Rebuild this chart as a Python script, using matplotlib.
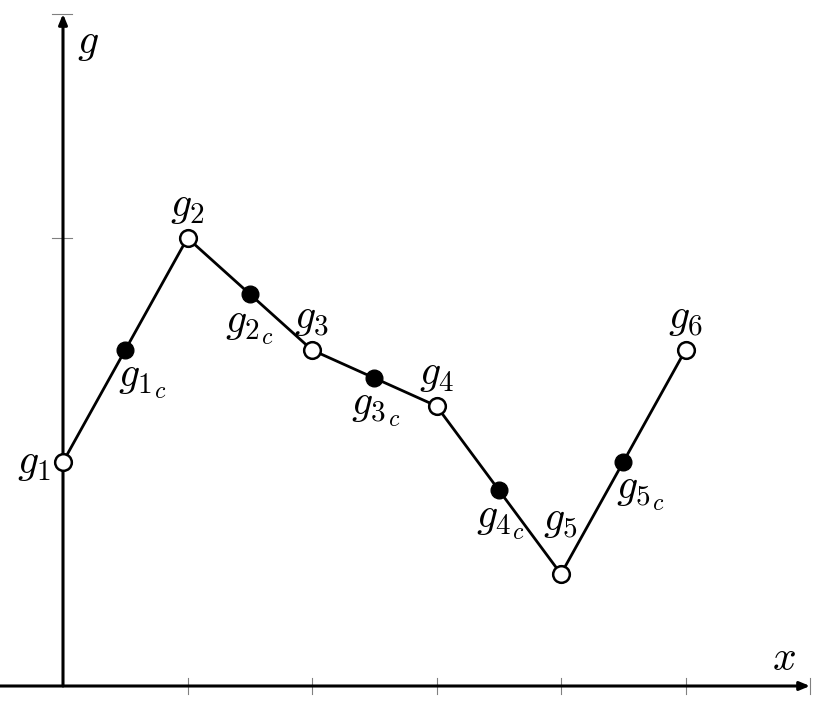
import matplotlib
matplotlib.use('Agg')
import matplotlib.pyplot as plt

plt.rcParams['mathtext.fontset'] = 'cm'

# main nodes g1..g6
node_x = [0, 1, 2, 3, 4, 5]
node_y = [2, 4, 3, 2.5, 1, 3]
node_labels = ['$g_1$', '$g_2$', '$g_3$', '$g_4$', '$g_5$', '$g_6$']

# centre points between nodes
mid_x = [0.5, 1.5, 2.5, 3.5, 4.5]
mid_y = [3.0, 3.5, 2.75, 1.75, 2.0]
mid_labels = ['$g_1$', '$g_2$', '$g_3$', '$g_4$', '$g_5$']  # + subscript c

x_ticks = [1, 2, 3, 4, 5, 6]
y_ticks = [4, 6]

fig = plt.figure(figsize=(8.24, 7.24), dpi=100)
ax = fig.add_axes([0, 0, 1, 1])
ax.set_xlim(-63 / 124.5, (824 - 63) / 124.5)
ax.set_ylim(-38 / 112.0, 686 / 112.0)
ax.axis('off')

# axes with arrows
arrow = dict(arrowstyle='-|>,head_length=0.6,head_width=0.25', color='black',
             lw=2.2, shrinkA=0, shrinkB=0)
ax.annotate('', xy=(6, 0), xytext=(-0.6, 0), arrowprops=arrow)
ax.annotate('', xy=(0, 6), xytext=(0, 0), arrowprops=arrow)
ax.text(5.79, 0.06, '$x$', fontsize=30, ha='center', va='bottom')
ax.text(0.2, 5.75, '$g$', fontsize=30, ha='center', va='center')

# tick marks
for t in x_ticks:
    ax.plot([t, t], [-0.07, 0.07], color='gray', lw=0.8)
for t in y_ticks:
    ax.plot([-0.09, 0.07], [t, t], color='gray', lw=0.8)

ax.plot(node_x, node_y, color='black', lw=2, zorder=2)
ax.plot(mid_x, mid_y, 'o', color='black', ms=12, zorder=3)
ax.plot(node_x, node_y, 'o', mfc='white', mec='black', mew=1.8, ms=12, zorder=3)

node_off = [(-12, 0, 'right', 'center'), (0, 12, 'center', 'bottom'),
            (0, 12, 'center', 'bottom'), (0, 12, 'center', 'bottom'),
            (0, 34, 'center', 'bottom'), (0, 12, 'center', 'bottom')]
for x, y, s, (dx, dy, ha, va) in zip(node_x, node_y, node_labels, node_off):
    ax.annotate(s, (x, y), xytext=(dx, dy), textcoords='offset pixels',
                fontsize=30, ha=ha, va=va)

# offsets of the left edge / baseline of each centre label
mid_off = [(-7, -36), (-25, -38), (-23, -36), (-23, -37), (-7, -36)]
mid_texts = []
for x, y, s, (dx, dy) in zip(mid_x, mid_y, mid_labels, mid_off):
    t = ax.annotate(s, (x, y), xytext=(dx, dy), textcoords='offset pixels',
                    fontsize=30, ha='left', va='baseline')
    mid_texts.append(t)

# the second level subscript "c", a bit larger than mathtext would make it
fig.canvas.draw()
r = fig.canvas.get_renderer()
for t, x, y, (dx, dy) in zip(mid_texts, mid_x, mid_y, mid_off):
    bb = t.get_window_extent(r)
    px, py = ax.transData.transform((x, y))
    ax.annotate('$c$', (x, y), xytext=(bb.x1 - px + 1, dy - 12),
                textcoords='offset pixels', fontsize=17, ha='left', va='baseline')

fig.savefig('out.png', dpi=100)
